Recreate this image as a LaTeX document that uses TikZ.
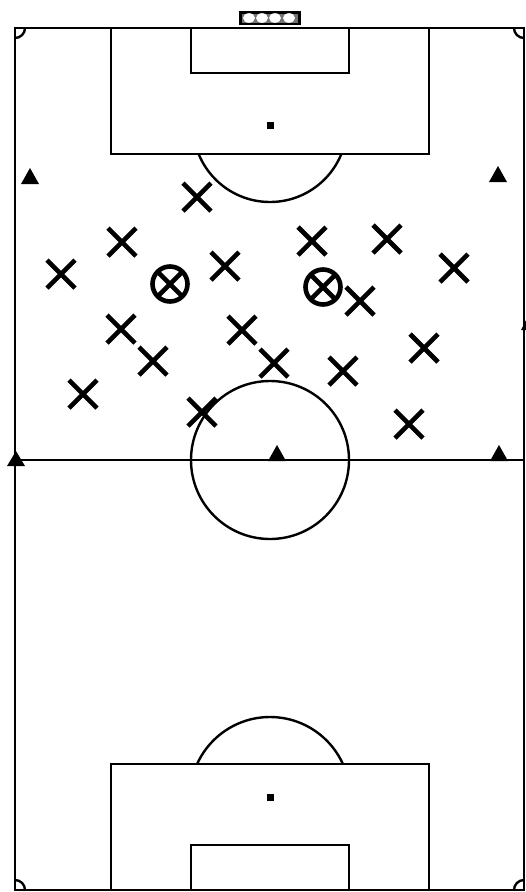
\documentclass[tikz,border=0pt]{standalone}
\begin{document}
\begin{tikzpicture}[x=1pt,y=-1pt,
  line/.style={line width=2.4pt, line join=miter},
  cross/.style={line width=4.6pt},
  tri/.style={fill=black},
  spot/.style={fill=black}]
\useasboundingbox (0,0) rectangle (526,892);
% goal
\fill[black] (239,11) rectangle (301,25);
\fill[black!55] (242,13.5) rectangle (298,22.5);
\foreach \cx in {249,262,275,289}{\fill[white] (\cx,18) ellipse (6 and 4.8);}
% field outline
\draw[line] (15,28) rectangle (524,890);
\draw[line] (15,460) -- (524,460);
\draw[line] (270,460) circle (79);
% corner arcs
\draw[line] (15,38) arc[start angle=90,end angle=0,radius=10];
\draw[line] (514,28) arc[start angle=180,end angle=90,radius=10];
\draw[line] (25,890) arc[start angle=0,end angle=-90,radius=10];
\draw[line] (524,880) arc[start angle=-90,end angle=-180,radius=10];
% top penalty area
\draw[line] (111,28) rectangle (429,154);
\draw[line] (191,28) rectangle (349,73);
\fill[spot] (267,122) rectangle (274,129);
\begin{scope}
\clip (100,154) rectangle (440,260);
\draw[line] (270,125) circle (77);
\end{scope}
% bottom penalty area
\draw[line] (111,764) rectangle (429,890);
\draw[line] (191,845) rectangle (349,890);
\fill[spot] (267,794) rectangle (274,801);
\begin{scope}
\clip (100,764) rectangle (440,690);
\draw[line] (270,797) circle (80);
\end{scope}
% triangles
\fill[tri] (30,168) -- (39,184) -- (21,184) -- cycle;
\fill[tri] (498,166) -- (507,182) -- (489,182) -- cycle;
\fill[tri] (16,451) -- (25,466) -- (7,466) -- cycle;
\fill[tri] (277,445) -- (286,461) -- (268,461) -- cycle;
\fill[tri] (499,445) -- (508,461) -- (490,461) -- cycle;
\fill[tri] (526,320) -- (527,330) -- (521,330) -- cycle;
% crosses
\foreach \px/\py [count=\i] in {197/197,122/242,61/274,225/266,312/241,387/239,454/268,360/301,121/329,153/361,242/330,274/363,424/348,343/371,83/394,202/412,409/424}{
  \coordinate (x\i) at (\px,\py);
  \draw[cross] ([shift={(-14,-14)}]x\i) -- ([shift={(14,14)}]x\i);
  \draw[cross] ([shift={(-14,14)}]x\i) -- ([shift={(14,-14)}]x\i);
}
% circled crosses
\foreach \px/\py [count=\i] in {170/284,323/287}{
  \coordinate (o\i) at (\px,\py);
  \draw[cross] (o\i) circle (17.5);
  \draw[cross] ([shift={(-12.5,-12.5)}]o\i) -- ([shift={(12.5,12.5)}]o\i);
  \draw[cross] ([shift={(-12.5,12.5)}]o\i) -- ([shift={(12.5,-12.5)}]o\i);
}
\end{tikzpicture}
\end{document}
